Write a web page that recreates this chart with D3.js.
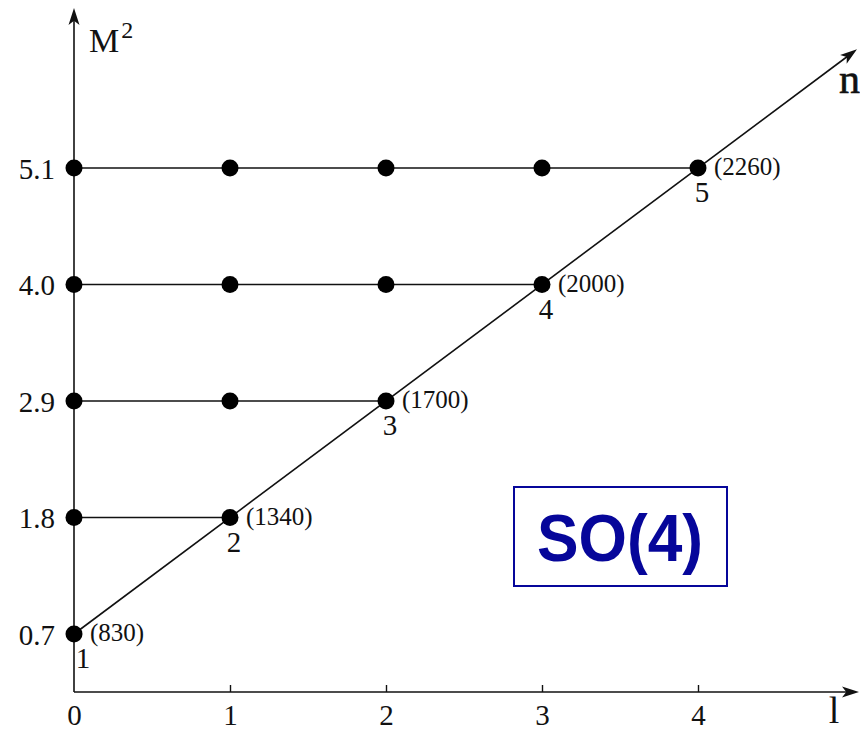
<!DOCTYPE html>
<html>
<head>
<meta charset="utf-8">
<script src="https://cdn.jsdelivr.net/npm/d3@7"></script>
<style>
  body { margin: 0; background: #fff; }
  svg { display: block; }
</style>
</head>
<body>
<div id="chart"></div>
<script>
// M^2 levels (GeV^2) for n = 1..5
var levels = [0.7, 1.8, 2.9, 4.0, 5.1];
// masses in MeV at the end of each row
var masses = [830, 1340, 1700, 2000, 2260];
var nLabels = ["1", "2", "3", "4", "5"];
var lTicks = [0, 1, 2, 3, 4];

var width = 860, height = 730;

var svg = d3.select("#chart").append("svg")
    .attr("width", width)
    .attr("height", height);

var x = d3.scaleLinear().domain([0, 4]).range([74, 698]);
var y = d3.scaleLinear().domain([0.7, 5.1]).range([634, 168]);

var axisY0 = 692;     // baseline of l axis
var ink = "#111";
var serif = "'Liberation Serif', 'Times New Roman', serif";

// small filled arrow head at (x2,y2) pointing away from (x1,y1)
function arrowHead(x1, y1, x2, y2){
    var a = Math.atan2(y2 - y1, x2 - x1);
    var len = 17, half = 5.5;
    var bx = x2 - len * Math.cos(a), by = y2 - len * Math.sin(a);
    var px = -Math.sin(a) * half, py = Math.cos(a) * half;
    var mx = x2 - len * 0.75 * Math.cos(a), my = y2 - len * 0.75 * Math.sin(a);
    svg.append("path")
        .attr("d", "M" + x2 + "," + y2 + "L" + (bx + px) + "," + (by + py) +
                   "L" + mx + "," + my + "L" + (bx - px) + "," + (by - py) + "Z")
        .attr("fill", ink);
}

// axes lines
var xEnd = 859, yTop = 8;
svg.append("line").attr("x1", x(0)).attr("y1", axisY0).attr("x2", xEnd - 4).attr("y2", axisY0)
    .attr("stroke", ink).attr("stroke-width", 1.6);
arrowHead(x(0), axisY0, xEnd, axisY0);
svg.append("line").attr("x1", x(0)).attr("y1", axisY0).attr("x2", x(0)).attr("y2", yTop + 4)
    .attr("stroke", ink).attr("stroke-width", 1.6);
arrowHead(x(0), axisY0, x(0), yTop);

// l axis ticks and labels
var gx = svg.append("g")
    .attr("transform", "translate(0," + axisY0 + ")")
    .call(d3.axisBottom(x).tickValues(lTicks).tickFormat(d3.format("d"))
        .tickSize(-7).tickPadding(12));
gx.select(".domain").remove();
gx.selectAll(".tick line").attr("stroke", ink).attr("stroke-width", 1.4)
    .attr("opacity", function(d){ return d === 0 ? 0 : 1; });
gx.selectAll(".tick text")
    .attr("font-family", serif).attr("font-size", 29).attr("fill", ink)
    .attr("dy", "0.71em");

// M^2 axis labels
var gy = svg.append("g")
    .attr("transform", "translate(" + x(0) + ",0)")
    .call(d3.axisLeft(y).tickValues(levels).tickFormat(d3.format(".1f")).tickSize(0).tickPadding(19));
gy.select(".domain").remove();
gy.selectAll(".tick text")
    .attr("font-family", serif).attr("font-size", 29).attr("fill", ink)
    .attr("dy", "0.36em");

// axis names
var mlab = svg.append("text")
    .attr("x", 89).attr("y", 52)
    .attr("font-family", serif).attr("font-size", 34).attr("fill", ink);
mlab.append("tspan").text("M");
mlab.append("tspan").attr("font-size", 24).attr("dy", -14).attr("dx", 2).text("2");

svg.append("text")
    .attr("x", 834).attr("y", 723)
    .attr("text-anchor", "middle")
    .attr("font-family", serif).attr("font-size", 38).attr("fill", ink)
    .text("l");

// n direction: through the end points of each row
var nLen = levels.length - 1;
var tipL = x.invert(857);
var tipM = levels[0] + (levels[nLen] - levels[0]) * tipL / nLen;
svg.append("line")
    .attr("x1", x(0)).attr("y1", y(levels[0]))
    .attr("x2", x(tipL) - 4).attr("y2", y(tipM) + 3)
    .attr("stroke", ink).attr("stroke-width", 1.6);
arrowHead(x(0), y(levels[0]), x(tipL), y(tipM));

svg.append("text")
    .attr("x", 839).attr("y", 93)
    .attr("font-family", serif).attr("font-size", 42).attr("fill", ink)
    .attr("stroke", ink).attr("stroke-width", 0.6)
    .text("n");

// rows: horizontal lines and dots
var rows = levels.map(function(m, i){
    return { m: m, n: i, mass: masses[i], label: nLabels[i] };
});

svg.selectAll("line.row")
    .data(rows.filter(function(d){ return d.n > 0; }))
    .enter().append("line")
    .attr("class", "row")
    .attr("x1", x(0)).attr("x2", function(d){ return x(d.n); })
    .attr("y1", function(d){ return y(d.m); }).attr("y2", function(d){ return y(d.m); })
    .attr("stroke", ink).attr("stroke-width", 1.6);

var dots = [];
rows.forEach(function(r){
    d3.range(0, r.n + 1).forEach(function(l){ dots.push({ l: l, m: r.m }); });
});

svg.selectAll("circle.dot")
    .data(dots)
    .enter().append("circle")
    .attr("class", "dot")
    .attr("cx", function(d){ return x(d.l); })
    .attr("cy", function(d){ return y(d.m); })
    .attr("r", 8.5)
    .attr("fill", "#000");

// masses next to the end dots
svg.selectAll("text.mass")
    .data(rows)
    .enter().append("text")
    .attr("class", "mass")
    .attr("x", function(d){ return x(d.n) + 16; })
    .attr("y", function(d){ return y(d.m) + 7; })
    .attr("font-family", serif).attr("font-size", 25).attr("fill", ink)
    .text(function(d){ return "(" + d.mass + ")"; });

// n numbers under the end dots
svg.selectAll("text.nnum")
    .data(rows)
    .enter().append("text")
    .attr("class", "nnum")
    .attr("x", function(d){ return x(d.n) + (d.n === 0 ? 9 : 4); })
    .attr("y", function(d){ return y(d.m) + 34; })
    .attr("text-anchor", "middle")
    .attr("font-family", serif).attr("font-size", 29).attr("fill", ink)
    .text(function(d){ return d.label; });

// SO(4) box
var blue = "#06069a";
svg.append("rect")
    .attr("x", 514).attr("y", 487).attr("width", 213).attr("height", 99)
    .attr("fill", "none").attr("stroke", blue).attr("stroke-width", 2);
svg.append("text")
    .attr("x", 620).attr("y", 561)
    .attr("text-anchor", "middle")
    .attr("font-family", "'Liberation Sans', Arial, sans-serif")
    .attr("font-weight", "bold").attr("font-size", 66).attr("fill", blue)
    .attr("textLength", 166).attr("lengthAdjust", "spacingAndGlyphs")
    .text("SO(4)");
</script>
</body>
</html>
